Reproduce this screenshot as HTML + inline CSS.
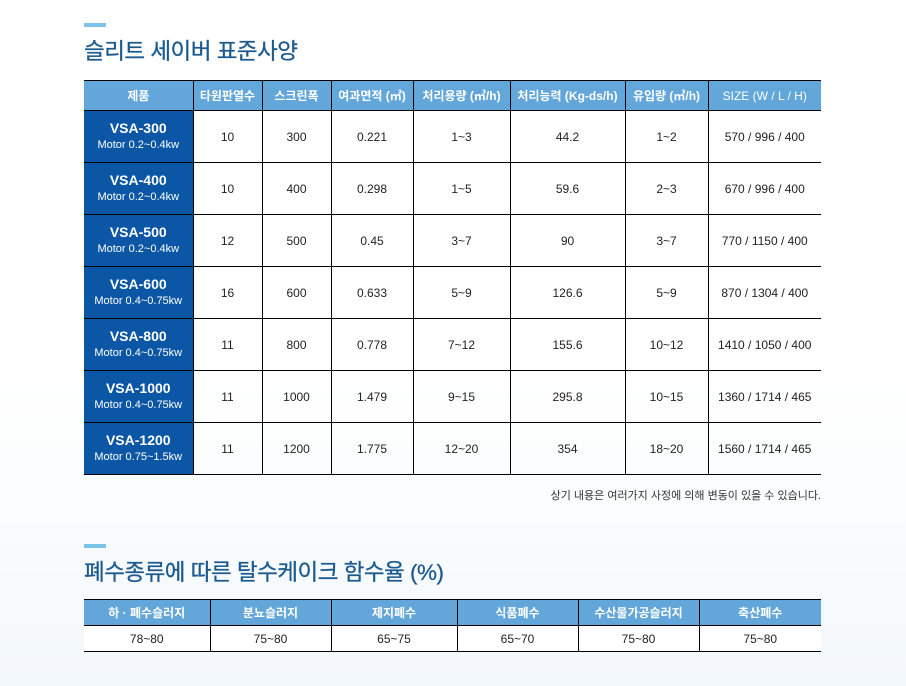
<!DOCTYPE html>
<html><head><meta charset="utf-8"><style>
body{margin:0;width:906px;height:686px;background:linear-gradient(#fff 0,#fff 380px,#f3f8fc 686px);font-family:"Liberation Sans","Noto Sans CJK KR",sans-serif;position:relative;overflow:hidden}
.bar{position:absolute;left:84px;width:22px;height:4px;background:#7cc3ea}
.t{position:absolute;left:84px;font-size:22.5px;color:#1d5b8f;letter-spacing:-0.5px;-webkit-text-stroke:0.3px #1d5b8f}
table{position:absolute;left:84px;border-collapse:collapse;font-size:12px;color:#222;table-layout:fixed}
td,th{text-align:center;padding:0;border:1px solid #000;border-top:none}
tr td:first-child,tr th:first-child{border-left:none}
tr td:last-child,tr th:last-child{border-right:none}
th{background:#62a6da;color:#fff;font-weight:bold;font-size:12px;border-top:1.5px solid #000}
td.m{background:#0b57a5;color:#fff;line-height:15px}
td.m b{font-size:14px}
td.m span{font-size:11px}
</style></head><body>
<div class="bar" style="top:23px"></div>
<div class="t" style="top:34px">슬리트 세이버 표준사양</div>
<table style="top:80px;width:737px">
<colgroup><col style="width:109px"><col style="width:69px"><col style="width:69px"><col style="width:82px"><col style="width:97px"><col style="width:115px"><col style="width:83px"><col style="width:113px"></colgroup>
<tr style="height:30px"><th>제품</th><th>타원판열수</th><th>스크린폭</th><th>여과면적 (㎡)</th><th>처리용량 (㎥/h)</th><th>처리능력 (Kg-ds/h)</th><th>유입량 (㎥/h)</th><th style="font-weight:normal">SIZE (W / L / H)</th></tr>
<tr style="height:52px"><td class="m"><b>VSA-300</b><br><span>Motor 0.2~0.4kw</span></td><td>10</td><td>300</td><td>0.221</td><td>1~3</td><td>44.2</td><td>1~2</td><td>570 / 996 / 400</td></tr>
<tr style="height:52px"><td class="m"><b>VSA-400</b><br><span>Motor 0.2~0.4kw</span></td><td>10</td><td>400</td><td>0.298</td><td>1~5</td><td>59.6</td><td>2~3</td><td>670 / 996 / 400</td></tr>
<tr style="height:52px"><td class="m"><b>VSA-500</b><br><span>Motor 0.2~0.4kw</span></td><td>12</td><td>500</td><td>0.45</td><td>3~7</td><td>90</td><td>3~7</td><td>770 / 1150 / 400</td></tr>
<tr style="height:52px"><td class="m"><b>VSA-600</b><br><span>Motor 0.4~0.75kw</span></td><td>16</td><td>600</td><td>0.633</td><td>5~9</td><td>126.6</td><td>5~9</td><td>870 / 1304 / 400</td></tr>
<tr style="height:52px"><td class="m"><b>VSA-800</b><br><span>Motor 0.4~0.75kw</span></td><td>11</td><td>800</td><td>0.778</td><td>7~12</td><td>155.6</td><td>10~12</td><td>1410 / 1050 / 400</td></tr>
<tr style="height:52px"><td class="m"><b>VSA-1000</b><br><span>Motor 0.4~0.75kw</span></td><td>11</td><td>1000</td><td>1.479</td><td>9~15</td><td>295.8</td><td>10~15</td><td>1360 / 1714 / 465</td></tr>
<tr style="height:52px"><td class="m"><b>VSA-1200</b><br><span>Motor 0.75~1.5kw</span></td><td>11</td><td>1200</td><td>1.775</td><td>12~20</td><td>354</td><td>18~20</td><td>1560 / 1714 / 465</td></tr>
</table>
<div style="position:absolute;right:85px;top:487px;font-size:11px;color:#333">상기 내용은 여러가지 사정에 의해 변동이 있을 수 있습니다.</div>
<div class="bar" style="top:544px"></div>
<div class="t" style="top:555px">폐수종류에 따른 탈수케이크 함수율 (%)</div>
<table style="top:599px;width:737px">
<colgroup><col style="width:126px"><col style="width:121px"><col style="width:126px"><col style="width:121px"><col style="width:121px"><col style="width:122px"></colgroup>
<tr style="height:26px"><th>하 · 폐수슬러지</th><th>분뇨슬러지</th><th>제지폐수</th><th>식품폐수</th><th>수산물가공슬러지</th><th>축산폐수</th></tr>
<tr style="height:26px;background:#fff"><td>78~80</td><td>75~80</td><td>65~75</td><td>65~70</td><td>75~80</td><td>75~80</td></tr>
</table>
</body></html>
